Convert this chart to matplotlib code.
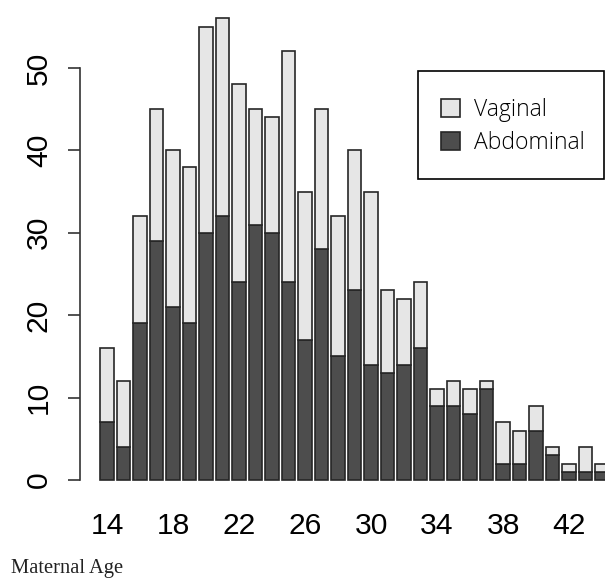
import matplotlib
matplotlib.use("Agg")
import matplotlib.pyplot as plt
from matplotlib.patches import Rectangle

ages = list(range(14, 45))
totals = [16, 12, 32, 45, 40, 38, 55, 56, 48, 45, 44, 52, 35, 45, 32, 40,
          35, 23, 22, 24, 11, 12, 11, 12, 7, 6, 9, 4, 2, 4, 2]
abdominal = [7, 4, 19, 29, 21, 19, 30, 32, 24, 31, 30, 24, 17, 28, 15, 23,
             14, 13, 14, 16, 9, 9, 8, 11, 2, 2, 6, 3, 1, 1, 1]
vaginal = [t - a for t, a in zip(totals, abdominal)]
tick_ages = [14, 18, 22, 26, 30, 34, 38, 42]
y_ticks = [0, 10, 20, 30, 40, 50]

W, H = 605, 579
fig = plt.figure(figsize=(W / 100, H / 100), dpi=100)
ax = fig.add_axes([80 / W, 1 - 498.5 / H, (W - 80) / W, 498.5 / H])

dark = "#4D4D4D"
light = "#E6E6E6"
edge = "#262626"
bw = 1 / 1.2
ax.bar(ages, abdominal, width=bw, color=dark, edgecolor=edge, linewidth=1.2, label="Abdominal")
ax.bar(ages, vaginal, bottom=abdominal, width=bw, color=light, edgecolor=edge, linewidth=1.2, label="Vaginal")

ax.set_xlim(12.36, 44.18)
ax.set_ylim(-2.24, 58.24)

for s in ["top", "right", "bottom"]:
    ax.spines[s].set_visible(False)
ax.spines["left"].set_bounds(0, 50)
ax.spines["left"].set_color("#333333")
ax.spines["left"].set_linewidth(1.2)

ax.set_yticks(y_ticks)
ax.set_yticklabels([str(v) for v in y_ticks], rotation=90, va="center",
                   family="Liberation Sans", fontsize=21.6)
ax.tick_params(axis="y", length=8.6, width=1.2, color="#333333", pad=11)

ax.set_xticks(tick_ages)
ax.set_xticklabels([str(v) for v in tick_ages], family="Liberation Sans", fontsize=21.6)
ax.tick_params(axis="x", length=0, pad=10)

# legend frame (R-style box)
fig.patches.append(Rectangle((418 / W, 1 - 179.3 / H), 186 / W, 108.6 / H,
                             transform=fig.transFigure, facecolor="white",
                             edgecolor="black", linewidth=1.2, zorder=5))
handles, labels = ax.get_legend_handles_labels()
leg = fig.legend(handles[::-1], labels[::-1], loc="center left",
                 bbox_to_anchor=(441 / W, 1 - 126.5 / H), bbox_transform=fig.transFigure,
                 borderaxespad=0, frameon=False,
                 prop={"family": "Open Sans", "size": 16.5, "weight": "light"},
                 handlelength=0.82, handleheight=0.82, handletextpad=0.6,
                 labelspacing=0.4, borderpad=0)
leg.set_zorder(6)

fig.text(11 / W, 1 - 573.3 / H, "Maternal Age", family="Liberation Serif",
         fontsize=14.8, ha="left", va="baseline", color="#222222")

fig.savefig("out.png", dpi=100)
